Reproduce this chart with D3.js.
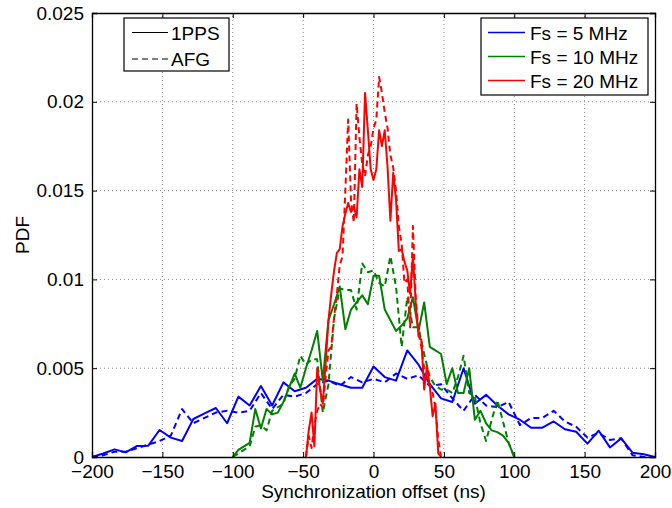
<!DOCTYPE html>
<html>
<head>
<meta charset="utf-8">
<script src="https://cdnjs.cloudflare.com/ajax/libs/d3/7.8.5/d3.min.js"></script>
<style>
  body { margin: 0; background: #fff; }
  text { font-family: "Liberation Sans", Arial, Helvetica, sans-serif; }
</style>
</head>
<body>
<div id="chart"></div>
<script>
// bin centres (ns) and PDF values
const offsets5 = [-200,-192,-184,-176,-168,-160,-152,-144,-136,-128,-120,-112,-104,-96,-88,-80,-72,-64,-56,-48,-40,-32,-24,-16,-8,0,8,16,24,32,40,48,56,64,72,80,88,96,104,112,120,128,136,144,152,160,168,176,184,192,200];
const pps5 = [0,0.0002,0.00043,0.00026,0.00062,0.00064,0.00152,0.00109,0.0009,0.00214,0.00246,0.00276,0.0019,0.0034,0.0029,0.004,0.0029,0.0042,0.0037,0.0039,0.0044,0.0043,0.0041,0.0039,0.0039,0.0051,0.0045,0.0043,0.006,0.0052,0.0041,0.0033,0.0031,0.005,0.003,0.0035,0.0029,0.0024,0.0021,0.00165,0.00165,0.002,0.00156,0.00142,0.00075,0.00148,0.00054,0.00105,0.00024,0.00015,0];
const afg5 = [0,0.0001,0.0003,0.0003,0.0005,0.0007,0.0009,0.0012,0.0027,0.0019,0.0022,0.0025,0.0026,0.0025,0.0026,0.0036,0.0027,0.0035,0.0034,0.0036,0.0041,0.0043,0.004,0.0045,0.0042,0.0044,0.0042,0.0047,0.0044,0.0046,0.004,0.0041,0.0033,0.0026,0.0035,0.0029,0.0028,0.0031,0.0018,0.0022,0.0022,0.0026,0.002,0.0017,0.0011,0.00135,0.00096,0.00105,0.0001,0,0];

const offsets10 = [-100,-96,-92,-88,-84,-80,-76,-72,-68,-64,-60,-56,-52,-48,-44,-40,-36,-32,-28,-24,-20,-16,-12,-8,-4,0,4,8,12,16,20,24,28,32,36,40,44,48,52,56,60,64,68,72,76,80,84,88,92,96,100];
const pps10 = [0,0.0004,0.0006,0.0008,0.0027,0.0016,0.0027,0.0024,0.0025,0.0031,0.0039,0.0047,0.0039,0.005,0.006,0.0071,0.0043,0.0077,0.0086,0.0096,0.0072,0.0083,0.0087,0.0091,0.0086,0.0102,0.0102,0.0083,0.0077,0.0071,0.0074,0.0078,0.009,0.0071,0.0087,0.0062,0.006,0.0058,0.0041,0.005,0.0036,0.0036,0.005,0.0021,0.0026,0.0019,0.0015,0.0014,0.0012,0.0008,0];
const afg10 = [0,0.0002,0.0004,0.0006,0.0017,0.0018,0.0015,0.0026,0.0028,0.003,0.004,0.0044,0.0057,0.0052,0.0055,0.0055,0.0025,0.0041,0.0078,0.0095,0.0094,0.0094,0.0083,0.0109,0.0104,0.0105,0.0098,0.0096,0.0113,0.0096,0.0062,0.009,0.0073,0.0073,0.0058,0.0045,0.004,0.0038,0.0038,0.0036,0.0045,0.0057,0.0036,0.0034,0.0019,0.0009,0.0021,0.0032,0.002,0.0008,0];

const offsets20 = [-48,-46,-44,-42,-40,-38,-36,-34,-32,-30,-28,-26,-24,-22,-20,-18,-16,-14,-12,-10,-8,-6,-4,-2,0,2,4,6,8,10,12,14,16,18,20,22,24,26,28,30,32,34,36,38,40,42,44,46,48];
const pps20 = [0,0.0015,0.0025,0.0006,0.005,0.0038,0.003,0.0053,0.0077,0.0092,0.0105,0.0115,0.0117,0.013,0.0137,0.0143,0.0138,0.0141,0.0135,0.0162,0.0152,0.0205,0.0184,0.0162,0.0156,0.0162,0.0184,0.0175,0.0184,0.0163,0.0133,0.016,0.0145,0.0116,0.0117,0.011,0.0105,0.0092,0.0113,0.0087,0.0068,0.0066,0.0038,0.0051,0.004,0.0023,0.003,0.0002,0];
const afg20 = [0,0.0012,0.0005,0.0018,0.0026,0.003,0.0028,0.0045,0.006,0.0062,0.0079,0.0092,0.0108,0.0113,0.015,0.019,0.0145,0.0132,0.0199,0.018,0.0165,0.0158,0.017,0.0175,0.0185,0.019,0.0214,0.0205,0.0194,0.0185,0.017,0.0163,0.015,0.013,0.012,0.0098,0.01,0.0073,0.013,0.009,0.007,0.0062,0.005,0.0045,0.004,0.0036,0.0028,0.001,0];

const xTicks = [-200,-150,-100,-50,0,50,100,150,200];
const yTicks = [0,0.005,0.01,0.015,0.02,0.025];
const rateNames = ["Fs = 5 MHz","Fs = 10 MHz","Fs = 20 MHz"];
const rateColors = ["#0000ff","#008000","#ff0000"];
const methodNames = ["1PPS","AFG"];

const width = 672, height = 508;
const margin = { top: 13, right: 17, bottom: 51, left: 92 };
const fontSize = "19px";

const svg = d3.select("#chart").append("svg").attr("width", width).attr("height", height);

const x = d3.scaleLinear().domain([-200, 200]).range([margin.left, width - margin.right]);
const y = d3.scaleLinear().domain([0, 0.025]).range([height - margin.bottom, margin.top]);

// dotted grid
svg.append("g").selectAll("line").data(xTicks.slice(1, -1)).enter().append("line")
    .attr("x1", d => x(d)).attr("x2", d => x(d))
    .attr("y1", y(0)).attr("y2", y(0.025))
    .attr("stroke", "#888").attr("stroke-dasharray", "1,3");
svg.append("g").selectAll("line").data(yTicks.slice(1, -1)).enter().append("line")
    .attr("x1", x(-200)).attr("x2", x(200))
    .attr("y1", d => y(d)).attr("y2", d => y(d))
    .attr("stroke", "#888").attr("stroke-dasharray", "1,3");

// curves
const series = [
    { xs: offsets5, ys: pps5, color: rateColors[0], dash: null },
    { xs: offsets5, ys: afg5, color: rateColors[0], dash: "6,4" },
    { xs: offsets10, ys: pps10, color: rateColors[1], dash: null },
    { xs: offsets10, ys: afg10, color: rateColors[1], dash: "6,4" },
    { xs: offsets20, ys: pps20, color: rateColors[2], dash: null },
    { xs: offsets20, ys: afg20, color: rateColors[2], dash: "6,4" }
];
const line = d3.line().x(d => x(d[0])).y(d => y(d[1]));
series.forEach(s => {
    svg.append("path")
        .datum(s.xs.map((v, i) => [v, s.ys[i]]))
        .attr("d", line)
        .attr("fill", "none")
        .attr("stroke", s.color)
        .attr("stroke-width", 2)
        .attr("stroke-linejoin", "round")
        .attr("stroke-dasharray", s.dash);
});

// axes with inward ticks on all four sides
const fmtY = d => String(d);
const axisB = svg.append("g").attr("transform", `translate(0,${y(0)})`)
    .call(d3.axisBottom(x).tickValues(xTicks).tickSize(-5).tickPadding(8));
const axisT = svg.append("g").attr("transform", `translate(0,${y(0.025)})`)
    .call(d3.axisTop(x).tickValues(xTicks).tickSize(-5).tickFormat(""));
const axisL = svg.append("g").attr("transform", `translate(${x(-200)},0)`)
    .call(d3.axisLeft(y).tickValues(yTicks).tickSize(-5).tickPadding(8).tickFormat(fmtY));
const axisR = svg.append("g").attr("transform", `translate(${x(200)},0)`)
    .call(d3.axisRight(y).tickValues(yTicks).tickSize(-5).tickFormat(""));
[axisB, axisT, axisL, axisR].forEach(g => {
    g.selectAll("path").attr("stroke", "#000").attr("stroke-width", 1.3);
    g.selectAll("line").attr("stroke", "#000");
    g.selectAll("text").style("font-size", fontSize).attr("fill", "#000")
        .style("font-family", "'Liberation Sans', Arial, sans-serif");
});

svg.append("text")
    .attr("x", (x(-200) + x(200)) / 2)
    .attr("y", 498)
    .attr("text-anchor", "middle")
    .style("font-size", fontSize)
    .text("Synchronization offset (ns)");

svg.append("text")
    .attr("transform", "rotate(-90)")
    .attr("x", -(y(0) + y(0.025)) / 2)
    .attr("y", 29)
    .attr("text-anchor", "middle")
    .style("font-size", fontSize)
    .text("PDF");

// legend: method (line style)
const leg1 = svg.append("g").attr("transform", "translate(124,18)");
leg1.append("rect").attr("width", 105).attr("height", 53)
    .attr("fill", "#fff").attr("stroke", "#000").attr("stroke-width", 1.2);
methodNames.forEach((name, i) => {
    const ly = 14.5 + i * 26.5;
    leg1.append("line").attr("x1", 8).attr("x2", 44).attr("y1", ly).attr("y2", ly)
        .attr("stroke", "#000").attr("stroke-width", 1)
        .attr("stroke-dasharray", i === 1 ? "6,4" : null);
    leg1.append("text").attr("x", 47).attr("y", ly + 7)
        .style("font-size", fontSize).text(name);
});

// legend: sampling rate (colour)
const leg2 = svg.append("g").attr("transform", "translate(481,18)");
leg2.append("rect").attr("width", 167).attr("height", 77)
    .attr("fill", "#fff").attr("stroke", "#000").attr("stroke-width", 1.2);
rateNames.forEach((name, i) => {
    const ly = 14.5 + i * 24;
    leg2.append("line").attr("x1", 7).attr("x2", 44).attr("y1", ly).attr("y2", ly)
        .attr("stroke", rateColors[i]).attr("stroke-width", 1.5);
    leg2.append("text").attr("x", 49).attr("y", ly + 7)
        .style("font-size", fontSize).text(name);
});
</script>
</body>
</html>
